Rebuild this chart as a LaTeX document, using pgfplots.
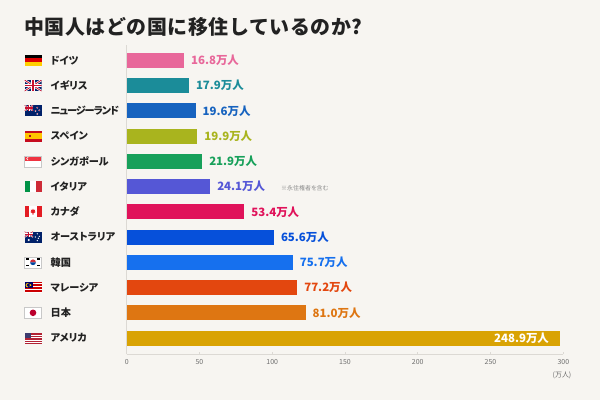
\documentclass[border=0pt]{standalone}
\usepackage{pgfplots}
\pgfplotsset{compat=1.18}
\usepackage{fontspec}
\newfontfamily\jp[RawFeature=+palt]{Noto Sans CJK JP}
\newfontfamily\jptitle[LetterSpace=3]{Noto Sans CJK JP}
\definecolor{bg}{HTML}{F7F5F1}
\definecolor{titlecol}{HTML}{222222}
\definecolor{cA}{HTML}{E8679A}
\definecolor{cB}{HTML}{1B8C99}
\definecolor{cC}{HTML}{1763BF}
\definecolor{cD}{HTML}{A9B41E}
\definecolor{cE}{HTML}{17A05A}
\definecolor{cF}{HTML}{5557D6}
\definecolor{cG}{HTML}{E0125A}
\definecolor{cH}{HTML}{0650DA}
\definecolor{cI}{HTML}{1670EE}
\definecolor{cJ}{HTML}{E3470F}
\definecolor{cK}{HTML}{DE7612}
\definecolor{cL}{HTML}{D9A304}
\definecolor{axcol}{HTML}{DCD9D4}
\definecolor{tickcol}{HTML}{6E6E6E}
\definecolor{ukblue}{HTML}{012169}
\definecolor{ukred}{HTML}{C8102E}
\definecolor{usblue}{HTML}{3C3B6E}
\definecolor{usred}{HTML}{B22234}
\definecolor{flagborder}{HTML}{C8C8C8}
\definecolor{deRed}{HTML}{DD0000}
\definecolor{deGold}{HTML}{FFCE00}
\definecolor{esRed}{HTML}{C60B1E}
\definecolor{esYel}{HTML}{FFC400}
\definecolor{esEmb}{HTML}{AD1519}
\definecolor{sgRed}{HTML}{EF3340}
\definecolor{itGreen}{HTML}{009246}
\definecolor{itRed}{HTML}{CE2B37}
\definecolor{caRed}{HTML}{E31C23}
\definecolor{krRed}{HTML}{CD2E3A}
\definecolor{krBlue}{HTML}{0047A0}
\definecolor{myRed}{HTML}{CC0001}
\definecolor{myBlue}{HTML}{010066}
\definecolor{myYel}{HTML}{FFCC00}
\definecolor{jpRed}{HTML}{BC002D}
\newcommand{\minijack}[2]{% width height, origin lower-left
  \begin{scope}
  \clip (0,0) rectangle (#1,#2);
  \fill[ukblue] (0,0) rectangle (#1,#2);
  \draw[white, line width=1.4] (0,0)--(#1,#2) (0,#2)--(#1,0);
  \draw[ukred, line width=0.5] (0,0)--(#1,#2) (0,#2)--(#1,0);
  \fill[white] ({#1/2-1.1},0) rectangle ({#1/2+1.1},#2);
  \fill[white] (0,{#2/2-1.1}) rectangle (#1,{#2/2+1.1});
  \fill[ukred] ({#1/2-0.6},0) rectangle ({#1/2+0.6},#2);
  \fill[ukred] (0,{#2/2-0.6}) rectangle (#1,{#2/2+0.6});
  \end{scope}}
\begin{document}
\begin{tikzpicture}[x=1bp,y=1bp]
\fill[bg] (0,0) rectangle (600,400);
\node[anchor=west, inner sep=0pt, font=\jptitle\bfseries\fontsize{20}{24}\selectfont, text=titlecol] at (24.0,372.6) {中国人はどの国に移住しているのか?};
\begin{axis}[
  at={(126.7bp,46bp)}, anchor=south west,
  scale only axis, width=436.6bp, height=308.8bp,
  xmin=0, xmax=300, ymin=-0.6, ymax=11.63,
  y dir=reverse,
  axis x line*=bottom, axis y line*=left,
  axis line style={draw=axcol, line width=0.6pt, -},
  xtick={0,50,100,150,200,250,300},
  ytick=\empty,
  major tick length=2.5bp,
  tick align=inside,
  tick style={draw=axcol, line width=0.6pt},
  xticklabel style={font=\jp\fontsize{7}{8}\selectfont, text=tickcol, yshift=-1.5bp},
  /pgf/number format/assume math mode=true,
  clip=false,
  xbar, bar width=15bp, bar shift=0pt,
  point meta=explicit symbolic,
  nodes near coords={\pgfplotspointmeta},
  every node near coord/.append style={font=\jp\bfseries\fontsize{11.5}{13}\selectfont, anchor=west, xshift=3.5bp},
]
% bar lengths as drawn in the reference (x) and their printed values (label)
\addplot[fill=cA, draw=none, every node near coord/.append style={text=cA}] coordinates {(39.4,0) [16.8万人]};
\addplot[fill=cB, draw=none, every node near coord/.append style={text=cB}] coordinates {(42.8,1) [17.9万人]};
\addplot[fill=cC, draw=none, every node near coord/.append style={text=cC}] coordinates {(47.4,2) [19.6万人]};
\addplot[fill=cD, draw=none, every node near coord/.append style={text=cD}] coordinates {(48.5,3) [19.9万人]};
\addplot[fill=cE, draw=none, every node near coord/.append style={text=cE}] coordinates {(51.9,4) [21.9万人]};
\addplot[fill=cF, draw=none, every node near coord/.append style={text=cF}] coordinates {(57.4,5) [24.1万人]};
\addplot[fill=cG, draw=none, every node near coord/.append style={text=cG}] coordinates {(80.8,6) [53.4万人]};
\addplot[fill=cH, draw=none, every node near coord/.append style={text=cH}] coordinates {(101.2,7) [65.6万人]};
\addplot[fill=cI, draw=none, every node near coord/.append style={text=cI}] coordinates {(114.1,8) [75.7万人]};
\addplot[fill=cJ, draw=none, every node near coord/.append style={text=cJ}] coordinates {(117.2,9) [77.2万人]};
\addplot[fill=cK, draw=none, every node near coord/.append style={text=cK}] coordinates {(123.0,10) [81.0万人]};
\addplot[fill=cL, draw=none, every node near coord/.append style={text=white, anchor=east, xshift=-11bp}] coordinates {(297.7,11) [248.9万人]};
\end{axis}
% notes
\node[anchor=west, inner sep=0pt, font=\jp\fontsize{6}{7}\selectfont, text=black!45] at (281,212) {※永住権者を含む};
\node[anchor=center, inner sep=0pt, font=\jp\fontsize{7}{8}\selectfont, text=tickcol] at (562,25) {(万人)};
% country names
\foreach \n [count=\i from 0] in {ドイツ,イギリス,{\addfontfeature{LetterSpace=-10}ニュージーランド},スペイン,シンガポール,イタリア,カナダ,オーストラリア,韓国,マレーシア,日本,アメリカ}{
  \node[anchor=west, inner sep=0pt, font=\jp\bfseries\fontsize{10.2}{12}\selectfont, text=titlecol] at (50.5,{339.7-25.25*\i}) {\n};
}
% flags (17 x 11), lower-left at (24.5, Y-5.5)
% Germany
\begin{scope}[shift={(24.5,334.2)}]
\fill[black] (0,7.33) rectangle (17,11);
\fill[deRed] (0,3.67) rectangle (17,7.33);
\fill[deGold] (0,0) rectangle (17,3.67);
\end{scope}
% UK
\begin{scope}[shift={(24.5,308.95)}]
\begin{scope}
\clip (0,0) rectangle (17,11);
\fill[ukblue] (0,0) rectangle (17,11);
\draw[white, line width=2.2] (0,0)--(17,11) (0,11)--(17,0);
\draw[ukred, line width=0.8] (0,0)--(17,11) (0,11)--(17,0);
\fill[white] (6.9,0) rectangle (10.1,11);
\fill[white] (0,3.9) rectangle (17,7.1);
\fill[ukred] (7.6,0) rectangle (9.4,11);
\fill[ukred] (0,4.6) rectangle (17,6.4);
\end{scope}
\end{scope}
% New Zealand
\begin{scope}[shift={(24.5,283.7)}]
\fill[ukblue] (0,0) rectangle (17,11);
\begin{scope}[shift={(0,5.5)}]\minijack{8.5}{5.5}\end{scope}
\foreach \p in {(12.8,8.6),(14.8,6.0),(11.0,5.4),(12.8,2.4)}{\fill[white] \p circle (0.9); \fill[ukred] \p circle (0.55);}
\end{scope}
% Spain
\begin{scope}[shift={(24.5,258.45)}]
\fill[esRed] (0,0) rectangle (17,11);
\fill[esYel] (0,2.75) rectangle (17,8.25);
\fill[esEmb] (4,4.2) rectangle (6.6,6.9);
\end{scope}
% Singapore
\begin{scope}[shift={(24.5,233.2)}]
\fill[white] (0,0) rectangle (17,11);
\fill[sgRed] (0,5.5) rectangle (17,11);
\fill[white] (3.6,8.25) circle (1.8);
\fill[sgRed] (4.3,8.25) circle (1.6);
\draw[flagborder, line width=0.3] (0,0) rectangle (17,11);
\end{scope}
% Italy
\begin{scope}[shift={(24.5,207.95)}]
\fill[itGreen] (0,0) rectangle (5.67,11);
\fill[white] (5.67,0) rectangle (11.33,11);
\fill[itRed] (11.33,0) rectangle (17,11);
\end{scope}
% Canada
\begin{scope}[shift={(24.5,182.7)}]
\fill[white] (0,0) rectangle (17,11);
\fill[caRed] (0,0) rectangle (4.25,11);
\fill[caRed] (12.75,0) rectangle (17,11);
\fill[caRed] (8.5,8.6) -- (9.3,7.2) -- (10.6,7.6) -- (10.1,6.0) -- (11.2,5.4) -- (8.9,3.9) -- (8.9,2.4) -- (8.1,2.4) -- (8.1,3.9) -- (5.8,5.4) -- (6.9,6.0) -- (6.4,7.6) -- (7.7,7.2) -- cycle;
\end{scope}
% Australia
\begin{scope}[shift={(24.5,157.45)}]
\fill[ukblue] (0,0) rectangle (17,11);
\begin{scope}[shift={(0,5.5)}]\minijack{8.5}{5.5}\end{scope}
\fill[white] (4.25,2.6) circle (1.1);
\foreach \p in {(12.8,8.8),(10.9,5.6),(14.9,6.2),(12.8,2.0),(13.9,4.3)}{\fill[white] \p circle (0.7);}
\end{scope}
% Korea
\begin{scope}[shift={(24.5,132.2)}]
\fill[white] (0,0) rectangle (17,11);
\fill[krRed] (8.5,5.5) ++(2.9,0) arc (0:180:2.9) -- cycle;
\fill[krBlue] (8.5,5.5) ++(-2.9,0) arc (180:360:2.9) -- cycle;
\foreach \p in {(3.0,8.6),(14.0,8.6),(3.0,2.4),(14.0,2.4)}{\fill[black] \p ++(-1.1,-0.9) rectangle ++(2.2,1.8);}
\draw[flagborder, line width=0.3] (0,0) rectangle (17,11);
\end{scope}
% Malaysia
\begin{scope}[shift={(24.5,106.95)}]
\fill[white] (0,0) rectangle (17,11);
\foreach \k in {0,2,...,12}{\fill[myRed] (0,{11-(\k+1)*11/14}) rectangle (17,{11-\k*11/14});}
\fill[myBlue] (0,4.71) rectangle (8.5,11);
\fill[myYel] (3.2,7.85) circle (2.1);
\fill[myBlue] (3.8,7.85) circle (1.8);
\fill[myYel] (6.0,7.85) circle (1.0);
\end{scope}
% Japan
\begin{scope}[shift={(24.5,81.7)}]
\fill[white] (0,0) rectangle (17,11);
\fill[jpRed] (8.5,5.5) circle (3.3);
\draw[flagborder, line width=0.3] (0,0) rectangle (17,11);
\end{scope}
% USA
\begin{scope}[shift={(24.5,56.45)}]
\fill[white] (0,0) rectangle (17,11);
\foreach \k in {0,2,...,12}{\fill[usred] (0,{11-(\k+1)*11/13}) rectangle (17,{11-\k*11/13});}
\fill[usblue] (0,5.08) rectangle (6.8,11);
\end{scope}
\end{tikzpicture}
\end{document}
